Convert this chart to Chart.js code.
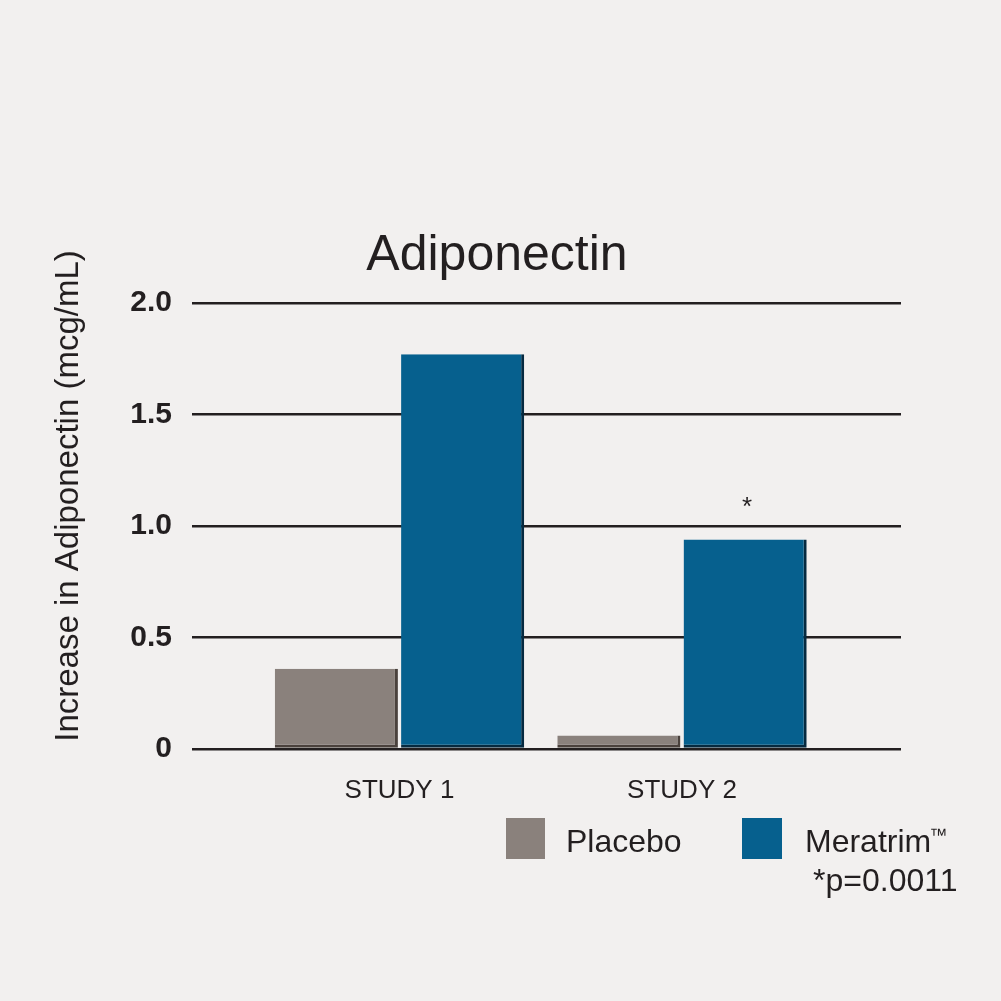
<!DOCTYPE html>
<html>
<head>
<meta charset="utf-8">
<script src="https://cdn.jsdelivr.net/npm/chart.js@4.4.1/dist/chart.umd.min.js"></script>
<style>
  html, body { margin: 0; padding: 0; background: #f2f0ef; }
  canvas { display: block; }
</style>
</head>
<body>
<canvas id="chart" width="1001" height="1001"></canvas>
<script>
// data
const studies = ["STUDY 1", "STUDY 2"];
const placebo = [0.36, 0.06];
const meratrim = [1.77, 0.94];
const seriesNames = ["Placebo", "Meratrim"];
const yTicks = [0, 0.5, 1.0, 1.5, 2.0];
const marks = ["", "*"]; // asterisk over Meratrim bars
const footnote = "*p=0.0011";

const INK = "#231f20";
const GREY = "#8a817c";
const BLUE = "#06608e";
const FONT = "'Liberation Sans', Arial, sans-serif";

const toPoints = (arr) => arr.map((v, i) => ({ x: i, y: v }));

const extras = {
  id: "extras",
  beforeDraw(chart) {
    const ctx = chart.ctx;
    ctx.save();
    ctx.fillStyle = "#f2f0ef";
    ctx.fillRect(0, 0, chart.width, chart.height);
    ctx.restore();
  },
  afterDraw(chart) {
    const ctx = chart.ctx;
    const y = chart.scales.y;
    ctx.save();
    ctx.fillStyle = INK;

    // title
    ctx.font = "50px " + FONT;
    ctx.textAlign = "center";
    ctx.textBaseline = "alphabetic";
    ctx.fillText("Adiponectin", 497, 270);

    // y axis title
    ctx.save();
    ctx.translate(78, 496);
    ctx.rotate(-Math.PI / 2);
    ctx.font = "33px " + FONT;
    ctx.fillText("Increase in Adiponectin (mcg/mL)", 0, 0);
    ctx.restore();

    // significance marks
    const meta = chart.getDatasetMeta(1);
    ctx.font = "26px " + FONT;
    marks.forEach((m, i) => {
      if (!m) return;
      const bar = meta.data[i];
      ctx.fillText(m, bar.x + 2, y.getPixelForValue(meratrim[i]) - 24);
    });

    // legend
    ctx.textAlign = "left";
    ctx.fillStyle = GREY;
    ctx.fillRect(506, 818, 39, 41);
    ctx.fillStyle = BLUE;
    ctx.fillRect(742, 818, 40, 41);
    ctx.fillStyle = INK;
    ctx.font = "32px " + FONT;
    ctx.fillText(seriesNames[0], 566, 852);
    ctx.fillText(seriesNames[1], 805, 852);
    const w = ctx.measureText(seriesNames[1]).width;
    ctx.font = "18px " + FONT;
    ctx.fillText("\u2122", 805 + w - 2, 841);
    ctx.font = "32px " + FONT;
    ctx.fillText(footnote, 813, 891);
    ctx.restore();
  }
};

new Chart(document.getElementById("chart"), {
  type: "bar",
  data: {
    datasets: [
      {
        label: seriesNames[0],
        data: toPoints(placebo),
        backgroundColor: GREY,
        borderColor: "#4a413c",
        borderWidth: { top: 0, left: 0, right: 3, bottom: 3 },
        borderSkipped: false
      },
      {
        label: seriesNames[1] + "\u2122",
        data: toPoints(meratrim),
        backgroundColor: BLUE,
        borderColor: "#062a40",
        borderWidth: { top: 0, left: 0, right: 3, bottom: 3 },
        borderSkipped: false
      }
    ]
  },
  options: {
    responsive: false,
    animation: false,
    categoryPercentage: 0.894,
    barPercentage: 0.975,
    layout: { padding: { top: 303, right: 100, bottom: 192, left: 0 } },
    plugins: {
      legend: { display: false },
      title: { display: false },
      tooltip: { enabled: false }
    },
    scales: {
      x: {
        type: "linear",
        offset: false,
        min: -0.7345,
        max: 1.7752,
        grid: { display: false, offset: false },
        border: { display: false },
        afterBuildTicks: (scale) => {
          scale.ticks = studies.map((s, i) => ({ value: i }));
        },
        afterFit: (scale) => { scale.height = 60; },
        ticks: {
          autoSkip: false,
          maxRotation: 0,
          padding: 18,
          color: INK,
          font: { family: FONT, size: 26 },
          callback: (v) => studies[v]
        }
      },
      y: {
        min: 0,
        max: 2,
        afterBuildTicks: (scale) => {
          scale.ticks = yTicks.map((v) => ({ value: v }));
        },
        afterFit: (scale) => { scale.width = 192; },
        grid: { color: INK, lineWidth: 2.5, drawTicks: false },
        border: { display: false },
        ticks: {
          padding: 20,
          color: INK,
          font: { family: FONT, size: 30, weight: "bold" },
          callback: (v) => (v === 0 ? "0" : v.toFixed(1))
        }
      }
    }
  },
  plugins: [extras]
});
</script>
</body>
</html>
